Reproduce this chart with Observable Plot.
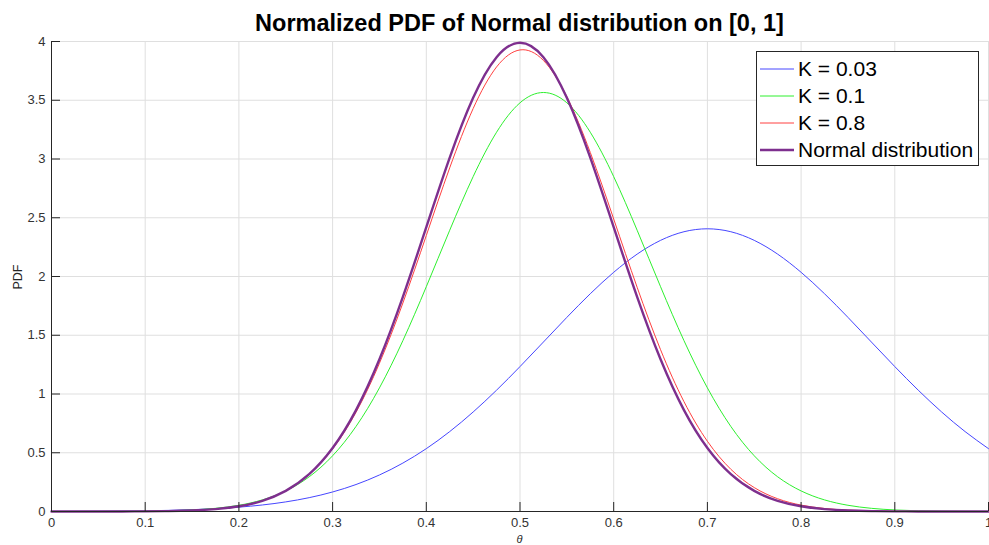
<!DOCTYPE html>
<html><head><meta charset="utf-8">
<script src="https://cdn.jsdelivr.net/npm/d3@7"></script>
<script src="https://cdn.jsdelivr.net/npm/@observablehq/plot@0.6"></script>
<style>
html,body{margin:0;padding:0;background:#fff;}
#chart{width:989px;height:545px;}
</style></head><body><div id="chart"></div>
<script>
const theta = [0,0.025,0.05,0.075,0.1,0.125,0.15,0.175,0.2,0.225,0.25,0.275,0.3,0.325,0.35,0.375,0.4,0.425,0.45,0.475,0.5,0.525,0.55,0.575,0.6,0.625,0.65,0.675,0.7,0.725,0.75,0.775,0.8,0.825,0.85,0.875,0.9,0.925,0.95,0.975,1];
const k003 = [0.0007,0.0012,0.0021,0.0035,0.0059,0.0096,0.0154,0.0241,0.0369,0.0555,0.0817,0.1177,0.1661,0.2296,0.3109,0.4121,0.5349,0.6802,0.8469,1.0327,1.2333,1.4424,1.6522,1.8533,2.0357,2.1902,2.3076,2.3810,2.4060,2.3810,2.3076,2.1902,2.0357,1.8533,1.6522,1.4424,1.2333,1.0327,0.8469,0.6802,0.5349];
const k01 = [0.0001,0.0002,0.0004,0.0011,0.0027,0.0061,0.0131,0.0270,0.0530,0.0987,0.1751,0.2953,0.4741,0.7240,1.0521,1.4542,1.9132,2.3938,2.8500,3.2279,3.4783,3.5660,3.4783,3.2279,2.8500,2.3938,1.9132,1.4542,1.0521,0.7240,0.4741,0.2953,0.1751,0.0987,0.0530,0.0270,0.0131,0.0061,0.0027,0.0011,0.0004];
const k08 = [0,0.0001,0.0002,0.0005,0.0015,0.0038,0.0093,0.0212,0.0457,0.0924,0.1760,0.3153,0.5319,0.8446,1.2620,1.7744,2.3487,2.9252,3.4293,3.7834,3.9283,3.8388,3.5303,3.0560,2.4893,1.9084,1.3771,0.9349,0.5978,0.3594,0.2035,0.1084,0.0544,0.0257,0.0114,0.0048,0.0019,0.0007,0.0002,0.0001,0];
const normalPdf = [0,0.0001,0.0002,0.0005,0.0013,0.0035,0.0087,0.0203,0.0443,0.0909,0.1753,0.3174,0.5399,0.8628,1.2952,1.8265,2.4197,3.0114,3.5207,3.8667,3.9894,3.8667,3.5207,3.0114,2.4197,1.8265,1.2952,0.8628,0.5399,0.3174,0.1753,0.0909,0.0443,0.0203,0.0087,0.0035,0.0013,0.0005,0.0002,0.0001,0];
const seriesNames = ["K = 0.03","K = 0.1","K = 0.8","Normal distribution"];
const seriesColors = ["#4646ff","#2ef02e","#ff4040","#7e2f8e"];
const seriesWidths = [1,1,1,2.4];
const xTicks = [0,0.1,0.2,0.3,0.4,0.5,0.6,0.7,0.8,0.9,1];
const xTickLabels = ["0","0.1","0.2","0.3","0.4","0.5","0.6","0.7","0.8","0.9","1"];
const yTicks = [0,0.5,1,1.5,2,2.5,3,3.5,4];
const yTickLabels = ["0","0.5","1","1.5","2","2.5","3","3.5","4"];
const titleText = "Normalized PDF of Normal distribution on [0, 1]";
const xLabel = "θ";
const yLabel = "PDF";

const seriesValues = [k003, k01, k08, normalPdf];
const lineMarks = seriesValues.map((vals, s) =>
  Plot.line(theta.map((t, i) => ({x: t, y: vals[i]})), {
    x: "x", y: "y", stroke: seriesColors[s], strokeWidth: seriesWidths[s], curve: "natural"
  })
);
const axisColor = "#262626";
const fmtX = d => xTickLabels[xTicks.indexOf(d)];
const fmtY = d => yTickLabels[yTicks.indexOf(d)];

const plot = Plot.plot({
  width: 989, height: 545,
  marginLeft: 51, marginRight: 1, marginTop: 41, marginBottom: 34,
  style: {fontFamily: "'Liberation Sans', Arial, sans-serif", fontSize: "13px", color: axisColor, background: "#fff"},
  x: {domain: [0, 1]},
  y: {domain: [0, 4]},
  marks: [
    Plot.gridX(xTicks, {stroke: "#dfdfdf", strokeOpacity: 1}),
    Plot.gridY(yTicks, {stroke: "#dfdfdf", strokeOpacity: 1}),
    ...lineMarks,
    Plot.ruleX([0], {stroke: axisColor}),
    Plot.ruleY([0], {stroke: axisColor}),
    Plot.axisX(xTicks, {tickSize: 0, tickPadding: 6, tickFormat: fmtX, label: null, fill: "#333", fontSize: 13}),
    Plot.axisX(xTicks, {tickSize: -9, tickFormat: () => "", label: null, stroke: axisColor}),
    Plot.axisY(yTicks, {tickSize: 0, tickPadding: 6, tickFormat: fmtY, label: null, fill: "#333", fontSize: 13}),
    Plot.axisY(yTicks, {tickSize: -9, tickFormat: () => "", label: null, stroke: axisColor})
  ]
});

const svg = d3.select(plot);
svg.append("text").attr("x", 519.5).attr("y", 31).attr("text-anchor", "middle")
  .attr("font-size", "23.5px").attr("font-weight", "bold").attr("fill", "#000").text(titleText);
svg.append("text").attr("transform", "translate(22,277) rotate(-90)").attr("text-anchor", "middle")
  .attr("font-size", "12.5px").attr("fill", axisColor).text(yLabel);
svg.append("text").attr("x", 519.5).attr("y", 543).attr("text-anchor", "middle")
  .attr("font-size", "11px").attr("font-style", "italic").attr("fill", axisColor).text(xLabel);

const lg = svg.append("g");
lg.append("rect").attr("x", 756.5).attr("y", 51.5).attr("width", 222).attr("height", 114)
  .attr("fill", "#fff").attr("stroke", axisColor).attr("stroke-width", 1);
seriesNames.forEach((name, i) => {
  const cy = 69 + i * 27;
  lg.append("line").attr("x1", 760).attr("x2", 794).attr("y1", cy).attr("y2", cy)
    .attr("stroke", seriesColors[i]).attr("stroke-width", seriesWidths[i]);
  lg.append("text").attr("x", 798).attr("y", cy).attr("dy", "0.35em").attr("text-anchor", "start")
    .attr("font-size", "21px").attr("fill", "#000").text(name);
});

document.getElementById("chart").appendChild(plot);
</script>
</body></html>
